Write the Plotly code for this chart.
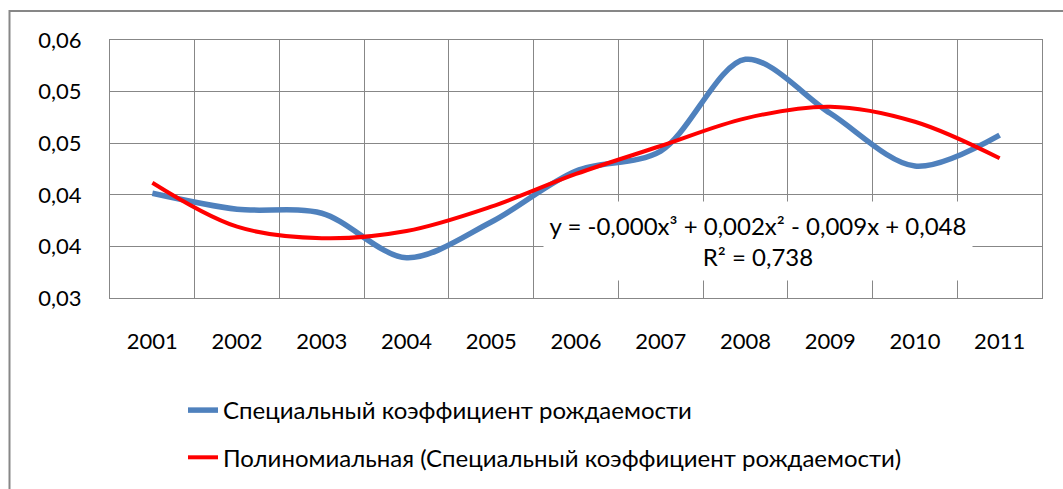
import plotly.graph_objects as go

years = ["2001", "2002", "2003", "2004", "2005", "2006", "2007", "2008", "2009", "2010", "2011"]
birth_rate = [0.04015, 0.03860, 0.03821, 0.03390, 0.03736, 0.04231, 0.04424, 0.05313, 0.04790, 0.04279, 0.04579]
trend = [0.04117, 0.03691, 0.03579, 0.03649, 0.03885, 0.04202, 0.04473, 0.04741, 0.04854, 0.04708, 0.04354]

y_tick_values = [0.030, 0.035, 0.040, 0.045, 0.050, 0.055]
y_tick_labels = ["0,03", "0,04", "0,04", "0,05", "0,05", "0,06"]

series_name = "Специальный коэффициент рождаемости"
trend_name = "Полиномиальная (Специальный коэффициент рождаемости)"
equation_text = "y = -0,000x³ + 0,002x² - 0,009x + 0,048<br>R² = 0,738"

FONT = "Lato, 'Open Sans', 'Noto Sans', sans-serif"
GRID = "#878787"

fig = go.Figure()
fig.add_trace(go.Scatter(
    x=years, y=birth_rate, name=series_name, mode="lines",
    line=dict(color="#4F81BD", width=5.5, shape="spline", smoothing=0.9),
    legendgroup="a",
))
fig.add_trace(go.Scatter(
    x=years, y=trend, name=trend_name, mode="lines",
    line=dict(color="#FF0000", width=4, shape="spline", smoothing=1.0),
    legendgroup="b",
))

L, R, T, B = 110, 1042, 40, 298
W, H = 1063, 489
pw, ph = R - L, B - T

def px(xp):
    return (xp - L) / pw

def py(yp):
    return (B - yp) / ph

fig.update_layout(
    width=W, height=H,
    margin=dict(l=L, r=W - R, t=T, b=H - B, autoexpand=False),
    paper_bgcolor="white", plot_bgcolor="white",
    font=dict(family=FONT, size=22, color="#000000"),
    showlegend=True,
    legend=dict(
        x=px(183), y=py(388), xanchor="left", yanchor="top",
        orientation="v", tracegroupgap=13,
        font=dict(family=FONT, size=24, color="#000000"),
        bgcolor="rgba(0,0,0,0)",
    ),
    xaxis=dict(
        type="category", categoryorder="array", categoryarray=years,
        range=[-0.5, 10.5], automargin=False,
        tickson="boundaries", showgrid=True, gridcolor=GRID, gridwidth=1,
        showline=True, linecolor=GRID, linewidth=1, mirror=True,
        ticks="", ticklabelstandoff=24, zeroline=False,
        tickfont=dict(family=FONT, size=22),
    ),
    yaxis=dict(
        range=[0.030, 0.055], tickvals=y_tick_values, ticktext=y_tick_labels,
        automargin=False,
        showgrid=True, gridcolor=GRID, gridwidth=1,
        showline=True, linecolor=GRID, linewidth=1, mirror=True,
        ticks="", ticklabelstandoff=23, zeroline=False,
        tickfont=dict(family=FONT, size=22),
    ),
    shapes=[
        dict(type="rect", xref="paper", yref="paper",
             x0=px(9.5), x1=px(1075), y0=py(500), y1=py(11),
             line=dict(color=GRID, width=2), fillcolor="rgba(0,0,0,0)", layer="below"),
    ],
    annotations=[
        dict(text=equation_text, xref="paper", yref="paper",
             x=px(758), y=py(241), xanchor="center", yanchor="middle",
             showarrow=False, align="center", bgcolor="white",
             width=426, height=76,
             font=dict(family=FONT, size=24, color="#000000")),
    ],
)

fig.write_html(
    "out.html",
    config={"displayModeBar": False},
    post_script="document.body.style.margin='0';document.body.style.overflow='hidden';",
)
